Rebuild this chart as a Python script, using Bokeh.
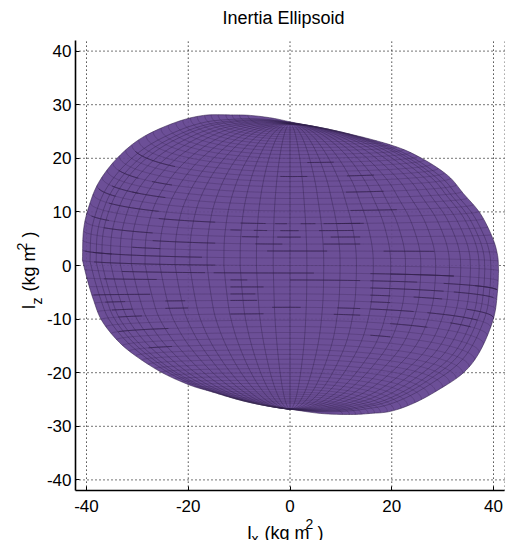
import numpy as np
from bokeh.plotting import figure
from bokeh.models import FixedTicker, Label
from bokeh.embed import file_html
from bokeh.resources import INLINE

# Title and tick labels
title_text = "Inertia Ellipsoid"
x_ticks = [-40, -20, 0, 20, 40]
z_ticks = [-40, -30, -20, -10, 0, 10, 20, 30, 40]
axis_x_limits = [-42.16, 42.16]
axis_z_limits = [-42.0, 42.0]

# Silhouette, in kg m^2, four arcs from the widest points to the poles
upper_left_x = [-40.8, -40.6, -39.6, -37.6, -33.9, -29.0, -22.5, -17.0, -11.7, -7.8, -3.5, 0.0]
upper_left_z = [1.0, 6.5, 10.8, 15.5, 20.1, 23.9, 26.7, 28.0, 28.1, 28.0, 27.5, 26.8]
upper_right_x = [41.0, 40.8, 39.8, 37.4, 34.1, 31.0, 25.7, 20.1, 10.5, 0.0]
upper_right_z = [-1.0, 1.9, 5.2, 9.7, 13.4, 16.8, 20.1, 22.4, 24.8, 26.8]
lower_left_x = [-40.8, -39.8, -38.6, -37.1, -34.3, -31.0, -25.5, -20.0, -15.6, -9.1, 0.0]
lower_left_z = [1.0, -2.8, -6.5, -10.1, -13.6, -16.4, -19.8, -22.2, -23.5, -25.2, -26.8]
lower_right_x = [41.0, 40.8, 40.0, 37.4, 34.1, 29.0, 24.3, 19.8, 15.8, 11.9, 6.0, 0.0]
lower_right_z = [-1.0, -4.7, -9.9, -15.9, -20.0, -23.3, -25.7, -27.2, -27.6, -27.8, -27.6, -26.8]

# Where the meridians cross the equator, and where the parallels cross the centre line
meridian_x = [3.3, 6.6, 9.8, 13.0, 16.3, 19.7, 22.6, 25.6, 28.5, 31.2, 33.4, 35.3, 37.0, 38.1, 39.3]
parallel_z = [1.4, 2.7, 4.0, 5.3, 6.5, 7.8, 9.0, 10.2, 11.4, 12.5, 13.6, 14.7, 15.7, 16.6, 17.5,
              18.4, 19.2, 20.0, 20.7, 21.4, 22.0, 22.6, 23.1, 23.6, 24.0, 24.4, 24.8, 25.1, 25.4, 25.7]

# Darker stretches of the parallels
dash_z = [7.8, 7.8, 7.8, 7.8, 6.5, 6.5, 6.5, 6.5, 5.3, 5.3, 5.3, 4.0, 4.0, 2.7, -1.4, -2.8, -2.8, -4.2, -5.3, -6.5,
          -7.9, -7.9, -9.3, -9.3, 2.7, -1.4, -3.2, 10.8, 13.6, 7.7, 16.7, 18.9, 16.4,
          1.6, 3.1, 3.1, 4.4, 6.9, 8.4, 8.4, 10.0, 12.8, 12.8, 14.3, 15.9, 17.1, 20.8, 18.4,
          0.0, -1.2, -2.8, -5.3, -6.8, -6.8, -8.1, -8.1, -9.3, -11.8, -15.1,
          -1.4, -2.8, -4.2, -4.2, -5.3, -5.3, -6.7, -6.7, -8.1, -8.1, -9.3, -10.6, -10.6, -11.8, -12.8]
dash_x0 = [-9.7, -2.9, 2.1, 9.3, -11.7, -7.1, -1.9, 5.7, -9.4, -2.5, 8.0, -6.8, 6.6, -4.5, -15.0, -11.7, 0.0, -11.7, -11.7, -11.7,
           -3.5, 9.3, -11.7, 8.6, 18.4, 19.8, 30.2, 11.9, 11.0, 6.6, 11.2, 3.4, -1.9,
           -40.9, -40.9, -31.0, -27.0, -36.6, -39.0, -25.8, -35.6, -37.6, -31.0, -35.0, -27.1, -33.7, -30.4, -26.5,
           -40.9, -33.0, -36.6, -38.6, -36.3, -24.5, -35.0, -24.5, -33.7, -33.7, -27.8,
           15.8, 15.8, 15.8, 36.4, 15.8, 32.2, 15.8, 24.3, 15.8, 34.8, 27.0, 19.7, 31.5, 22.4, 15.8]
dash_x1 = [-4.8, -0.6, 5.0, 13.8, -9.7, -4.5, 1.7, 12.5, -6.1, 2.1, 13.8, -1.5, 13.8, 7.3, 4.7, -8.4, 13.8, -5.2, -6.8, -6.5,
           2.1, 13.8, -5.2, 13.8, 28.3, 32.2, 40.7, 21.0, 18.4, 14.5, 16.5, 8.6, 3.4,
           -17.3, -35.0, -25.5, -14.7, -27.0, -35.6, -14.7, -25.8, -34.3, -24.5, -29.8, -23.2, -29.8, -26.5, -22.6,
           -14.7, -16.7, -26.2, -27.5, -32.4, -20.6, -31.0, -20.0, -29.1, -23.9, -23.2,
           32.2, 25.0, 30.2, 40.7, 19.7, 40.7, 19.7, 29.9, 24.3, 40.0, 36.8, 22.4, 35.5, 27.0, 19.7]

FILL = "#6C4F97"
LINE = "#33214C"
FONT = "Liberation Sans"

# Pixel scale of the axes (image position of data 0,0 and px per unit)
PX0, PY0, SX, SY = 289.5, 265.0, 5.0875, 5.36


def smooth(xs, zs, n=8):
    pts = np.column_stack([xs, zs])
    p = np.vstack([2 * pts[0] - pts[1], pts, 2 * pts[-1] - pts[-2]])
    out = []
    for i in range(1, len(p) - 2):
        for u in np.linspace(0, 1, n, endpoint=False):
            out.append(0.5 * ((2 * p[i]) + (-p[i - 1] + p[i + 1]) * u
                              + (2 * p[i - 1] - 5 * p[i] + 4 * p[i + 1] - p[i + 2]) * u ** 2
                              + (-p[i - 1] + 3 * p[i] - 3 * p[i + 1] + p[i + 2]) * u ** 3))
    out.append(pts[-1])
    out = np.array(out)
    return out[:, 0], out[:, 1]


def arc(xs, zs):
    xs, zs = smooth(xs, zs)
    s = np.r_[0, np.cumsum(np.hypot(np.diff(xs), np.diff(zs)))]
    return s / s[-1], xs, zs


def on_arc(a, t):
    return np.interp(t, a[0], a[1]), np.interp(t, a[0], a[2])


arcs = {
    (1, -1): arc(upper_left_x, upper_left_z),
    (1, 1): arc(upper_right_x, upper_right_z),
    (-1, -1): arc(lower_left_x, lower_left_z),
    (-1, 1): arc(lower_right_x, lower_right_z),
}
POLE = {1: 26.4, -1: -26.8}
FULL = 40.8


def mesh_point(hemi, lon_x, t):
    """Point of the mesh: lon_x is a signed equator crossing, t runs from equator (0) to pole (1)."""
    side = 1 if lon_x >= 0 else -1
    bx, bz = on_arc(arcs[(hemi, side)], t)
    s = min(abs(lon_x) / FULL, 1.0)
    c = np.sqrt(1 - s * s)
    cz = POLE[hemi] * np.sin(t * np.pi / 2)
    return s * bx, cz + (1 - c) * (bz - cz)


# Silhouette, clockwise from the left
ul, ur, lr, ll = arcs[(1, -1)], arcs[(1, 1)], arcs[(-1, 1)], arcs[(-1, -1)]
outline_x = np.r_[ul[1], ur[1][::-1][1:], lr[1][1:], ll[1][::-1][1:-1]].tolist()
outline_z = np.r_[ul[2], ur[2][::-1][1:], lr[2][1:], ll[2][::-1][1:-1]].tolist()

# Meridians
lons = sorted([-m for m in meridian_x] + [0.0] + list(meridian_x))
ts = np.linspace(0, 1, 60)
mer_xs, mer_zs = [], []
for lon in lons:
    ux, uz = mesh_point(1, lon, ts)
    lx, lz = mesh_point(-1, lon, ts)
    mer_xs.append(np.r_[lx[::-1], ux].tolist())
    mer_zs.append(np.r_[lz[::-1], uz].tolist())

# Parallels
phi = np.linspace(-1, 1, 121)
lon_grid = FULL * np.sin(phi * np.pi / 2)
par_xs, par_zs = [], []
levels = [-z for z in parallel_z[::-1]] + [0.0] + list(parallel_z)
for z0 in levels:
    hemi = 1 if z0 >= 0 else -1
    t = 2 / np.pi * np.arcsin(z0 / POLE[hemi])
    pts = [mesh_point(hemi, lon, t) for lon in lon_grid]
    par_xs.append(np.array([q[0] for q in pts]))
    par_zs.append(np.array([q[1] for q in pts]))

# Dark stretches follow the nearest parallel
dk_xs, dk_zs = [], []
for z, a, b in zip(dash_z, dash_x0, dash_x1):
    mid = (a + b) / 2
    best = int(np.argmin([abs(np.interp(mid, px, pz) - z) for px, pz in zip(par_xs, par_zs)]))
    grid = np.linspace(a, b, 12)
    px, pz = par_xs[best], par_zs[best]
    grid = grid[(grid >= px.min()) & (grid <= px.max())]
    if len(grid) > 1:
        dk_xs.append(grid.tolist())
        dk_zs.append(np.interp(grid, px, pz).tolist())

# The frame covers the whole canvas so that the axis titles can be drawn inside it
W, H, TOP = 505, 540, 30
p = figure(width=W, height=H, output_backend="svg", toolbar_location=None,
           x_range=((0 - PX0) / SX, (W - PX0) / SX), y_range=((PY0 - H) / SY, (PY0 - TOP) / SY),
           min_border_left=0, min_border_right=0, min_border_top=TOP, min_border_bottom=0,
           title=title_text)
p.outline_line_color = None
p.background_fill_color = "white"
p.title.text_font = FONT
p.title.text_font_size = "18px"
p.title.text_font_style = "normal"
p.title.text_color = "black"
p.title.align = "left"
p.title.offset = 222
p.title.standoff = 6

p.xaxis.ticker = FixedTicker(ticks=x_ticks)
p.yaxis.ticker = FixedTicker(ticks=z_ticks)
p.xaxis.fixed_location = axis_z_limits[0]
p.yaxis.fixed_location = axis_x_limits[0]
p.xaxis.bounds = tuple(axis_x_limits)
p.yaxis.bounds = tuple(axis_z_limits)
for ax in (p.xaxis[0], p.yaxis[0]):
    ax.axis_line_width = 1.6
    ax.axis_line_color = "black"
    ax.major_tick_in = 4
    ax.major_tick_out = 0
    ax.minor_tick_in = 0
    ax.minor_tick_out = 0
    ax.major_tick_line_color = "black"
    ax.major_tick_line_width = 1
    ax.major_label_text_font = FONT
    ax.major_label_text_font_size = "17px"
    ax.major_label_text_color = "black"
p.xaxis[0].major_label_standoff = 9
p.yaxis[0].major_label_standoff = 4
p.xaxis[0].major_label_overrides = {t: str(t) for t in x_ticks}
p.yaxis[0].major_label_overrides = {t: str(t) for t in z_ticks}
p.grid.visible = False


def dotted_grid(alpha):
    xs = [[t, t] for t in x_ticks] + [[t, t] for t in ()]
    zs = [list(axis_z_limits) for _ in x_ticks]
    xs += [list(axis_x_limits) for _ in z_ticks]
    zs += [[t, t] for t in z_ticks]
    p.multi_line(xs, zs, line_color="black", line_dash="1 3", line_width=1, line_alpha=alpha)


dotted_grid(1.0)
# Faint dotted line along the right edge of the axes
p.line([axis_x_limits[1]] * 2, axis_z_limits, line_color="#777777", line_dash="1 3", line_width=1)

p.patch(outline_x, outline_z, fill_color=FILL, line_color=LINE, line_width=0.7, line_alpha=0.8)
p.multi_line([a.tolist() for a in par_xs], [a.tolist() for a in par_zs], line_color=LINE, line_width=0.8, line_alpha=0.32)
p.multi_line(mer_xs, mer_zs, line_color=LINE, line_width=0.7, line_alpha=0.6)
p.multi_line(dk_xs, dk_zs, line_color=LINE, line_width=0.9, line_alpha=0.8)
dotted_grid(0.12)


def label(text, px, py, size, angle=0.0):
    p.add_layout(Label(x=(px - PX0) / SX, y=(PY0 - py) / SY, text=text, angle=angle,
                       text_font=FONT, text_font_size=f"{size}px", text_color="black",
                       text_align="left", text_baseline="alphabetic"))


# x axis label
label("I", 246.5, 532, 18)
label("x", 251, 538, 14)
label("(kg m", 264, 532, 18)
label("2", 305, 523, 14)
label(")", 317, 532, 18)
# z axis label
rot = np.pi / 2
label("I", 28, 309, 18, rot)
label("z", 36.5, 304, 14, rot)
label("(kg m", 28, 291, 18, rot)
label("2", 21, 250, 14, rot)
label(")", 28, 237, 18, rot)

open("out.html", "w").write(file_html(p, INLINE))
